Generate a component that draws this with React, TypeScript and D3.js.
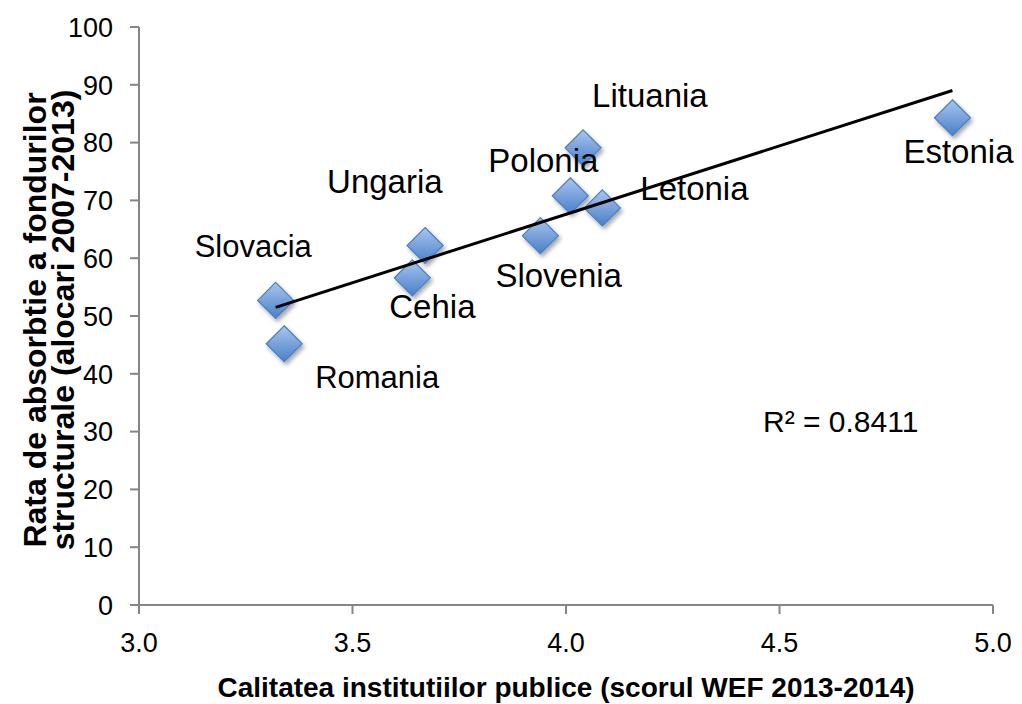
import { useRef, useEffect } from 'react';
import * as d3 from 'd3';

// values
const countries = ['Slovacia', 'Romania', 'Cehia', 'Ungaria', 'Slovenia', 'Polonia', 'Letonia', 'Lituania', 'Estonia'];
const quality = [3.32, 3.34, 3.64, 3.67, 3.94, 4.01, 4.085, 4.04, 4.905];
const absorption = [52.7, 45.2, 56.6, 62.2, 63.9, 70.8, 68.7, 79.1, 84.3];
const xTicks = [3.0, 3.5, 4.0, 4.5, 5.0];
const yTicks = [0, 10, 20, 30, 40, 50, 60, 70, 80, 90, 100];
const r2Label = 'R² = 0.8411';

// label placement relative to each point (px)
const labelOffsets: [number, number][] = [
  [-81, -43], [31, 44], [-23, 40], [-98, -52], [-45, 51], [-82, -24], [38, -8], [9, -41], [-49, 45],
];
const labelSizes = [31, 31, 33, 33, 33, 33, 33, 33, 33];

export default function App() {
  const svgRef = useRef<SVGSVGElement>(null);

  useEffect(() => {
    if (!svgRef.current) return;
    const width = 1022;
    const height = 704;
    const margin = { top: 27, right: 29, bottom: 99, left: 139 };
    const font = '"Liberation Sans", Arial, sans-serif';

    const svg = d3.select(svgRef.current);
    svg.selectAll('*').remove();
    svg.attr('width', width).attr('height', height);

    const x = d3.scaleLinear().domain([3, 5]).range([margin.left, width - margin.right]);
    const y = d3.scaleLinear().domain([0, 100]).range([height - margin.bottom, margin.top]);

    const defs = svg.append('defs');
    const grad = defs.append('linearGradient')
      .attr('id', 'dia').attr('x1', 0).attr('y1', 0).attr('x2', 0).attr('y2', 1);
    grad.append('stop').attr('offset', '0%').attr('stop-color', '#a9c6ee');
    grad.append('stop').attr('offset', '45%').attr('stop-color', '#7ea6de');
    grad.append('stop').attr('offset', '100%').attr('stop-color', '#4a7fc6');
    defs.append('filter').attr('id', 'shadow')
      .attr('x', '-50%').attr('y', '-50%').attr('width', '200%').attr('height', '200%')
      .append('feDropShadow')
      .attr('dx', 2).attr('dy', 3).attr('stdDeviation', 2)
      .attr('flood-color', '#000').attr('flood-opacity', 0.35);

    const axisColor = '#868686';

    // y axis
    svg.append('line')
      .attr('x1', margin.left).attr('x2', margin.left)
      .attr('y1', y(100)).attr('y2', y(0))
      .attr('stroke', axisColor).attr('stroke-width', 2);
    svg.selectAll('line.ytick').data(yTicks).join('line')
      .attr('class', 'ytick')
      .attr('x1', margin.left - 9).attr('x2', margin.left)
      .attr('y1', d => y(d)).attr('y2', d => y(d))
      .attr('stroke', axisColor).attr('stroke-width', 2);
    svg.selectAll('text.ylab').data(yTicks).join('text')
      .attr('class', 'ylab')
      .attr('x', margin.left - 26)
      .attr('y', d => y(d))
      .attr('dy', '0.36em')
      .attr('text-anchor', 'end')
      .attr('font-family', font).attr('font-size', 27).attr('fill', '#000')
      .text(d => d);

    // x axis
    svg.append('line')
      .attr('x1', x(3) - 9).attr('x2', x(5))
      .attr('y1', y(0)).attr('y2', y(0))
      .attr('stroke', axisColor).attr('stroke-width', 2);
    svg.selectAll('line.xtick').data(xTicks).join('line')
      .attr('class', 'xtick')
      .attr('x1', d => x(d)).attr('x2', d => x(d))
      .attr('y1', y(0)).attr('y2', y(0) + 9)
      .attr('stroke', axisColor).attr('stroke-width', 2);
    svg.selectAll('text.xlab').data(xTicks).join('text')
      .attr('class', 'xlab')
      .attr('x', d => x(d))
      .attr('y', y(0) + 47)
      .attr('text-anchor', 'middle')
      .attr('font-family', font).attr('font-size', 27).attr('fill', '#000')
      .text(d => d.toFixed(1));

    // markers
    const pts = countries.map((c, i) => ({ name: c, x: quality[i], y: absorption[i], i }));
    const s = 18;
    svg.selectAll('path.dot').data(pts).join('path')
      .attr('class', 'dot')
      .attr('d', d => {
        const cx = x(d.x), cy = y(d.y);
        return `M${cx},${cy - s}L${cx + s},${cy}L${cx},${cy + s}L${cx - s},${cy}Z`;
      })
      .attr('fill', 'url(#dia)')
      .attr('stroke', '#4a7ebf').attr('stroke-width', 1.2)
      .attr('filter', 'url(#shadow)');

    // linear trendline (least squares)
    const mx = d3.mean(quality)!;
    const my = d3.mean(absorption)!;
    const sxy = d3.sum(quality, (v, i) => (v - mx) * (absorption[i] - my));
    const sxx = d3.sum(quality, v => (v - mx) ** 2);
    const slope = sxy / sxx;
    const icpt = my - slope * mx;
    const [x0, x1] = d3.extent(quality) as [number, number];
    svg.append('line')
      .attr('x1', x(x0)).attr('y1', y(icpt + slope * x0))
      .attr('x2', x(x1)).attr('y2', y(icpt + slope * x1))
      .attr('stroke', '#000').attr('stroke-width', 3);

    // point labels
    svg.selectAll('text.name').data(pts).join('text')
      .attr('class', 'name')
      .attr('x', d => x(d.x) + labelOffsets[d.i][0])
      .attr('y', d => y(d.y) + labelOffsets[d.i][1])
      .attr('font-family', font)
      .attr('font-size', d => labelSizes[d.i])
      .attr('fill', '#000')
      .text(d => d.name);

    svg.append('text')
      .attr('x', 763).attr('y', 432)
      .attr('font-family', font).attr('font-size', 30).attr('fill', '#000')
      .text(r2Label);

    // axis titles
    svg.append('text')
      .attr('x', (x(3) + x(5)) / 2).attr('y', 697)
      .attr('text-anchor', 'middle')
      .attr('font-family', font).attr('font-size', 28).attr('font-weight', 'bold')
      .text('Calitatea institutiilor publice (scorul WEF 2013-2014)');

    const yt = svg.append('text')
      .attr('transform', `translate(0, 320) rotate(-90)`)
      .attr('text-anchor', 'middle')
      .attr('font-family', font).attr('font-size', 32).attr('font-weight', 'bold');
    yt.append('tspan').attr('x', 0).attr('y', 46).text('Rata de absorbtie a fondurilor');
    yt.append('tspan').attr('x', 0).attr('y', 74).text('structurale (alocari 2007-2013)');
  }, []);

  return <svg ref={svgRef} style={{ position: 'absolute', left: 0, top: 0, background: '#fff' }} />;
}
